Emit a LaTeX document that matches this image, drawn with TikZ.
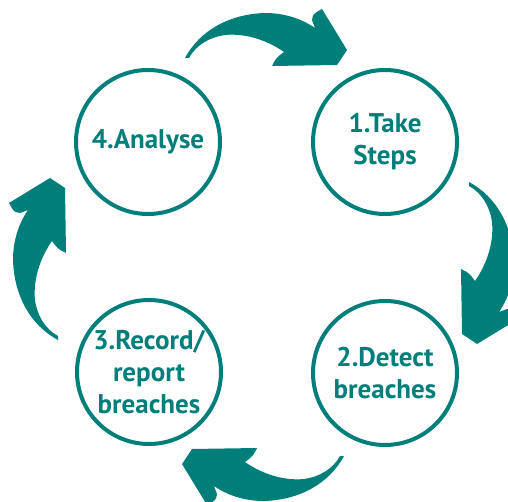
\documentclass[tikz,border=0pt]{standalone}
\usepackage{fontspec}
\setmainfont{PT Sans}
\usetikzlibrary{calc}
\definecolor{sTeal}{HTML}{007F7A}
\tikzset{
  stage/.style={circle, draw=sTeal, line width=4pt, fill=white, minimum size=144pt, inner sep=0pt, align=center, text=sTeal, font=\fontsize{27}{32}\selectfont\bfseries},
  sweep/.style={fill=sTeal, draw=none},
}
% one curved arrow, drawn round the hub of the cycle
\newcommand{\cyclearrow}{(-82,-199) .. controls (-67,-227) and (-37,-243) .. (-2,-244)
  .. controls (18,-244) and (35,-238) .. (48,-229) -- (45,-237)
  .. controls (46,-243) .. (55,-248) -- (80,-207) -- (70,-192) -- (5,-191)
  .. controls (9,-199) .. (17,-205)
  .. controls (0,-217) and (-22,-224) .. (-42,-222)
  .. controls (-57,-220) and (-71,-212) .. (-78,-199) -- cycle}

\begin{document}
\begin{tikzpicture}[x=1pt, y=-1pt]
\useasboundingbox (0,0) rectangle (508,502);
\coordinate (hub) at (267,257);
\foreach \ang/\dx/\dy in {0/0/0, -90/3/7, -180/-5/0, -270/-10/1}
  \fill[sweep, shift={($(hub)+(\dx,\dy)$)}, rotate=\ang] \cyclearrow;
\node[stage] (take) at (385,142) {1.Take\\Steps};
\node[stage] (detect) at (385,373) {2.Detect\\breaches};
\node[stage] (record) at (149,372) {3.Record/\\report\\breaches};
\node[stage] (analyse) at (148,142) {4.Analyse};
\end{tikzpicture}
\end{document}
